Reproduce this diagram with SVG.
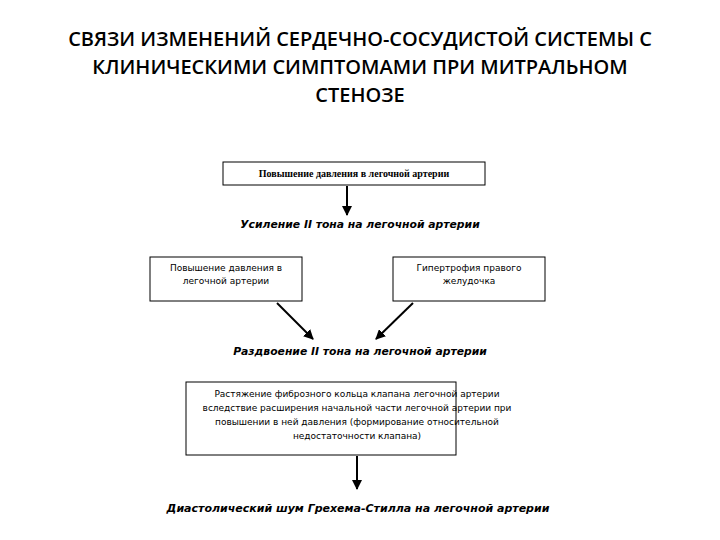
<svg xmlns="http://www.w3.org/2000/svg" width="720" height="540" viewBox="0 0 720 540">
<defs>
<marker id="ah" viewBox="0 0 10 10" refX="9" refY="5" markerWidth="5" markerHeight="5" orient="auto"><path d="M0,0L10,5L0,10z" fill="#000"/></marker>
<style>
.t{font-family:"Open Sans","DejaVu Sans",sans-serif;font-weight:600;font-size:20px;text-anchor:middle}
.b{fill:#fff;stroke:#000;stroke-width:1}
.s{font-family:"DejaVu Sans",sans-serif;font-size:9px;text-anchor:middle}
.i{font-family:"DejaVu Sans",sans-serif;font-size:10.8px;font-style:italic;font-weight:bold;text-anchor:middle}
.c{stroke:#000;stroke-width:2;fill:none;marker-end:url(#ah)}
</style>
</defs>
<rect width="720" height="540" fill="#fff"/>
<g id="title">
<text class="t" x="360" y="46">СВЯЗИ ИЗМЕНЕНИЙ СЕРДЕЧНО-СОСУДИСТОЙ СИСТЕМЫ С</text>
<text class="t" x="360" y="74">КЛИНИЧЕСКИМИ СИМПТОМАМИ ПРИ МИТРАЛЬНОМ</text>
<text class="t" x="360" y="102">СТЕНОЗЕ</text>
</g>
<g id="n1"><rect class="b" x="223" y="162" width="262" height="23"/>
<text x="354" y="177" style="font-family:'Liberation Serif',serif;font-weight:bold;font-size:10px;text-anchor:middle">Повышение давления в легочной артерии</text></g>
<g id="n2"><text class="i" x="360" y="228">Усиление II тона на легочной артерии</text></g>
<g id="n3"><rect class="b" x="150" y="257" width="152" height="44"/>
<text class="s" x="226" y="271">Повышение давления в</text><text class="s" x="226" y="284">легочной артерии</text></g>
<g id="n4"><rect class="b" x="393" y="257" width="152" height="44"/>
<text class="s" x="469" y="271">Гипертрофия правого</text><text class="s" x="469" y="284">желудочка</text></g>
<g id="n5"><text class="i" x="360" y="355">Раздвоение II тона на легочной артерии</text></g>
<g id="n6"><rect class="b" x="186" y="382" width="270" height="73"/>
<text class="s" x="357" y="397">Растяжение фиброзного кольца клапана легочной артерии</text>
<text class="s" x="357" y="411">вследствие расширения начальной части легочной артерии при</text>
<text class="s" x="357" y="425">повышении в ней давления (формирование относительной</text>
<text class="s" x="357" y="439">недостаточности клапана)</text></g>
<g id="n7"><text class="i" x="358" y="512" style="font-size:11px">Диастолический шум Грехема-Стилла на легочной артерии</text></g>
<g id="connectors">
<line class="c" x1="347" y1="186" x2="347" y2="215"/>
<line class="c" x1="277" y1="303" x2="313" y2="339"/>
<line class="c" x1="413" y1="303" x2="376" y2="339"/>
<line class="c" x1="357" y1="456" x2="357" y2="489"/>
</g>
</svg>
